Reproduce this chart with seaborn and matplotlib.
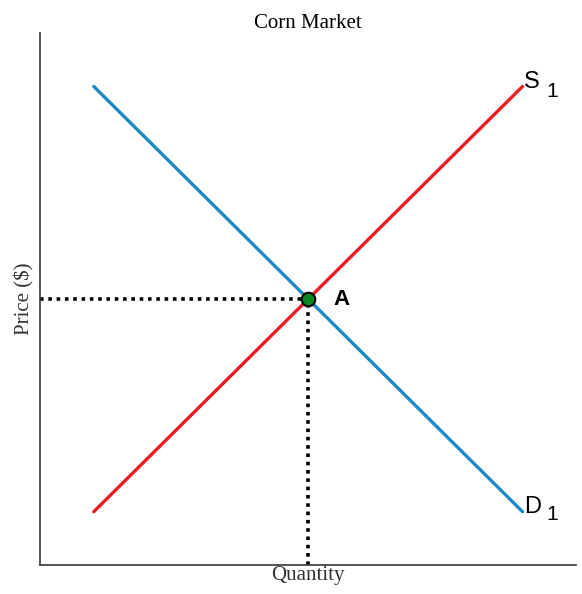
import pandas as pd
import matplotlib
matplotlib.use('Agg')
import matplotlib.pyplot as plt
import seaborn as sns

# curve end points (quantity, price)
supply_q = [1, 9]
supply_p = [1, 9]
demand_q = [1, 9]
demand_p = [9, 1]
eq_q = [5]
eq_p = [5]

sns.set_style('white')

fig = plt.figure(figsize=(5.82, 5.94), dpi=100)
ax = fig.add_axes([0.069, 0.049, 0.921, 0.895])

sup = pd.DataFrame({'q': supply_q, 'p': supply_p})
dem = pd.DataFrame({'q': demand_q, 'p': demand_p})
eq = pd.DataFrame({'q': eq_q, 'p': eq_p})

# dotted guides to the axes
ax.plot([0, eq_q[0]], [eq_p[0], eq_p[0]], color='black', lw=2.6, ls=(0, (1, 1.3)), zorder=2)
ax.plot([eq_q[0], eq_q[0]], [0, eq_p[0]], color='black', lw=2.6, ls=(0, (1, 1.3)), zorder=2)

sns.lineplot(data=sup, x='q', y='p', color='#ec1c24', lw=2.4, ax=ax, zorder=3)
sns.lineplot(data=dem, x='q', y='p', color='#1c8ac6', lw=2.4, ax=ax, zorder=3)
sns.scatterplot(data=eq, x='q', y='p', color='#0a8a1e', edgecolor='black', linewidth=1.5,
                s=95, ax=ax, zorder=5)

ax.set_xlim(0, 10)
ax.set_ylim(0, 10)
ax.set_xticks([])
ax.set_yticks([])
for side in ['top', 'right']:
    ax.spines[side].set_visible(False)
for side in ['left', 'bottom']:
    ax.spines[side].set_color('#444444')
    ax.spines[side].set_linewidth(1.3)

serif = 'Liberation Serif'
ax.set_title('Corn Market', fontsize=15, family=serif, color='black', pad=4)
ax.set_xlabel('Quantity', fontsize=15, family=serif, color='#333333', labelpad=1)
ax.set_ylabel('Price ($)', fontsize=15, family=serif, color='#333333', labelpad=4)

ax.text(5.47, 5.0, 'A', fontsize=16, fontweight='bold', family='Liberation Sans',
        va='center', color='black')
ax.text(9.03, 8.97, 'S', fontsize=17, family='Liberation Sans', va='baseline', color='black')
ax.text(9.45, 8.80, '1', fontsize=15, family='Liberation Sans', va='baseline', color='black')
ax.text(9.03, 0.98, 'D', fontsize=17, family='Liberation Sans', va='baseline', color='black')
ax.text(9.45, 0.85, '1', fontsize=15, family='Liberation Sans', va='baseline', color='black')

fig.savefig('out.png', dpi=100)
